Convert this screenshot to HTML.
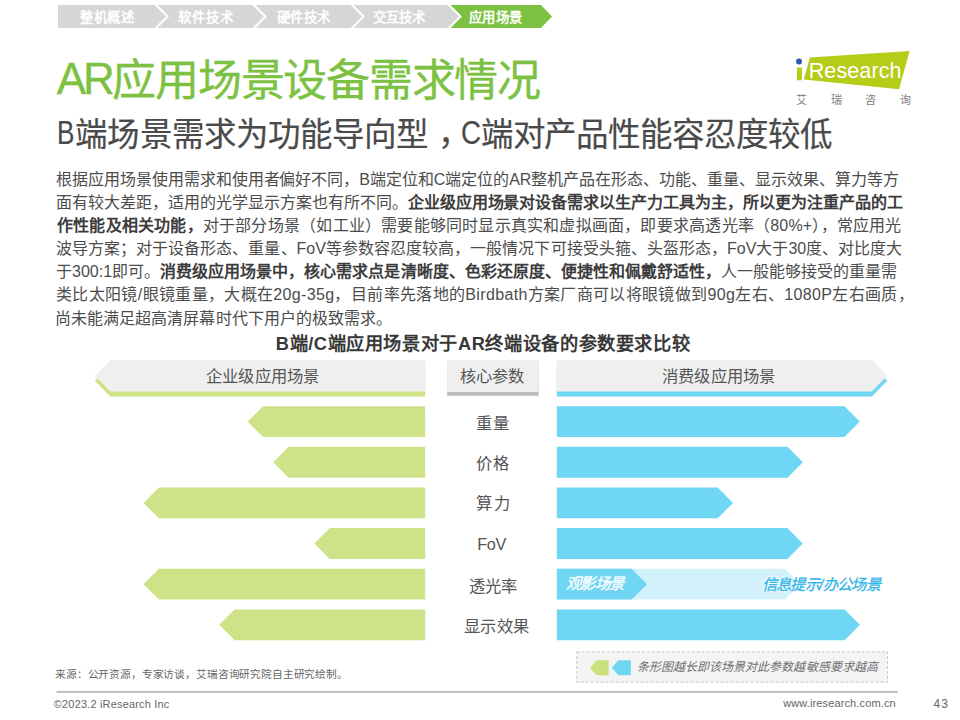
<!DOCTYPE html><html lang="zh-CN"><head>
<meta charset="utf-8">
<title>AR</title>
<style>
html,body{margin:0;padding:0;}
body{width:960px;height:720px;position:relative;overflow:hidden;background:#fff;font-family:"Liberation Sans",sans-serif;color:#444;}
.abs{position:absolute;white-space:nowrap;}
svg{position:absolute;left:0;top:0;}
.bc{top:5px;line-height:23px;font-size:13.33px;font-weight:bold;color:#fff;}
#bc1{left:80px}#bc2{left:178px}#bc3{left:277px}#bc4{left:373px}#bc5{left:468px}
.tt{top:54.5px;font-size:44px;line-height:50px;color:#7dc142;-webkit-text-stroke:0.35px #7dc142;}
.st{top:113.5px;font-size:32.5px;line-height:40px;color:#4a4a4a;-webkit-text-stroke:0.2px #4a4a4a;}
.p{left:57px;font-size:16px;line-height:23px;color:#4c4c4c;}
.p b{color:#3c3c3c;}
#ct{font-size:18.2px;line-height:24px;font-weight:bold;color:#383838;}
.hd{top:364px;line-height:24px;font-size:16.3px;color:#555;}
.it{font-style:italic;}
.ft{font-size:11px;line-height:14px;color:#666;}
</style>
</head>
<body>
<svg width="960" height="720" viewBox="0 0 960 720">
  <!-- breadcrumb -->
  <g id="crumb">
    <polygon points="58,5 154.5,5 166,16.5 154.5,28 58,28" fill="#d6d6d6"></polygon>
    <polygon points="157.5,5 252.5,5 264,16.5 252.5,28 157.5,28 169,16.5" fill="#d6d6d6"></polygon>
    <polygon points="255.5,5 350.5,5 362,16.5 350.5,28 255.5,28 267,16.5" fill="#d6d6d6"></polygon>
    <polygon points="353.5,5 447.5,5 459,16.5 447.5,28 353.5,28 365,16.5" fill="#d6d6d6"></polygon>
    <polygon points="450.5,5 541,5 552,16.5 541,28 450.5,28 462,16.5" fill="#7dc142"></polygon>
  </g>
  <!-- logo -->
  <g id="logo">
    <polygon points="809.8,57.6 909.6,51 899,89.3 803.8,79.6" fill="#b5cc18"></polygon>
    <rect x="797" y="67.5" width="4.9" height="12.8" fill="#b5cc18"></rect>
    <circle cx="799" cy="61.6" r="3" fill="#2e5aa8"></circle>
  </g>
  <!-- header shapes -->
  <polygon points="94.8,380.85 110.3,365.10 425.2,365.10 425.2,396.60 110.3,396.60" fill="#cee288"></polygon>
  <polygon points="94.8,375.65 110.3,359.90 425.2,359.90 425.2,391.40 110.3,391.40" fill="#efefef"></polygon>
  <rect x="447.1" y="364" width="91.6" height="31.8" fill="#bdbdbd"></rect>
  <rect x="447.1" y="359.9" width="91.6" height="32" fill="#efefef"></rect>
  <polygon points="556.8,365.10 871.8,365.10 887.3,380.85 871.8,396.60 556.8,396.60" fill="#6fd6f3"></polygon>
  <polygon points="556.8,359.90 871.8,359.90 887.3,375.65 871.8,391.40 556.8,391.40" fill="#efefef"></polygon>
  <!-- green bars -->
  <g fill="#cee288">
    <polygon points="247.7,421.60 263.1,406.20 425.2,406.20 425.2,437.00 263.1,437.00"></polygon>
    <polygon points="273.3,462.24 288.7,446.84 425.2,446.84 425.2,477.64 288.7,477.64"></polygon>
    <polygon points="143.5,502.88 158.9,487.48 425.2,487.48 425.2,518.28 158.9,518.28"></polygon>
    <polygon points="314.4,543.52 329.8,528.12 425.2,528.12 425.2,558.92 329.8,558.92"></polygon>
    <polygon points="143.5,584.16 158.9,568.76 425.2,568.76 425.2,599.56 158.9,599.56"></polygon>
    <polygon points="219.2,624.80 234.6,609.40 425.2,609.40 425.2,640.20 234.6,640.20"></polygon>
  </g>
  <!-- blue bars -->
  <g fill="#6fd6f3">
    <polygon points="556.8,406.20 844.4,406.20 859.8,421.60 844.4,437.00 556.8,437.00"></polygon>
    <polygon points="556.8,446.84 787.5,446.84 802.9,462.24 787.5,477.64 556.8,477.64"></polygon>
    <polygon points="556.8,487.48 717.6,487.48 733.0,502.88 717.6,518.28 556.8,518.28"></polygon>
    <polygon points="556.8,528.12 787.4,528.12 802.8,543.52 787.4,558.92 556.8,558.92"></polygon>
    <polygon points="556.8,568.76 785.0,568.76 800.4,584.16 785.0,599.56 556.8,599.56" fill="#d3f1fb"></polygon>
    <polygon points="556.8,568.76 631.6,568.76 647.0,584.16 631.6,599.56 556.8,599.56"></polygon>
    <polygon points="556.8,609.40 844.6,609.40 860.0,624.80 844.6,640.20 556.8,640.20"></polygon>
  </g>
  <!-- legend -->
  <rect x="576.8" y="651.8" width="310.7" height="30.4" fill="#f4f4f4" stroke="#c2c2c2" stroke-width="0.9" stroke-dasharray="3,2"></rect>
  <polygon points="590,667.8 596.7,660.3 608.7,660.3 608.7,675.3 596.7,675.3" fill="#c9e07e"></polygon>
  <polygon points="611.7,667.8 618.3,660.3 630.8,660.3 630.8,675.3 618.3,675.3" fill="#6fd6f3"></polygon>
  <!-- footer line -->
  <rect x="56.5" y="690.9" width="841" height="2" fill="#bdbdbd"></rect>
</svg>

<div id="bc1" class="abs bc" style="letter-spacing: 0.6px; left: 80px; top: 6.2px; width: 54.43px; text-align: justify; text-align-last: justify;">整机概述</div>
<div id="bc2" class="abs bc" style="letter-spacing: 0.866px; left: 178px; top: 6.2px; width: 55.49px; text-align: justify; text-align-last: justify;">软件技术</div>
<div id="bc3" class="abs bc" style="letter-spacing: 0.334px; left: 277px; top: 6.2px; width: 53.36px; text-align: justify; text-align-last: justify;">硬件技术</div>
<div id="bc4" class="abs bc" style="letter-spacing: 0.067px; left: 372.8px; top: 6.2px; width: 52.3px; text-align: justify; text-align-last: justify;">交互技术</div>
<div id="bc5" class="abs bc" style="letter-spacing: 0.4px; left: 468.8px; top: 6.2px; width: 53.63px; text-align: justify; text-align-last: justify;">应用场景</div>

<div id="lg1" class="abs" style="left: 808.7px; top: 58.1px; font-size: 21.5px; line-height: 26px; color: rgb(255, 255, 255); letter-spacing: 0.116px; width: 92.97px; text-align: justify; text-align-last: justify;">Research</div>
<div id="lg2" class="abs" style="left: 796px; top: 93px; font-size: 11px; line-height: 14px; color: rgb(124, 124, 124); letter-spacing: 23.667px; width: 138.69px; text-align: justify; text-align-last: justify;">艾瑞咨询</div>

<div id="t1" class="abs tt" style="left: 56.8px; letter-spacing: -3.2px; top: 54.3px; width: 54.75px; text-align: justify; text-align-last: justify;">AR</div>
<div id="t2" class="abs tt" style="left: 112.4px; letter-spacing: -1.268px; top: 55.9px; width: 427.35px; text-align: justify; text-align-last: justify;">应用场景设备需求情况</div>

<div id="s1" class="abs st" style="left: 57.4px; transform: scaleX(0.8029); transform-origin: 0px 50%; top: 113.3px;">B</div>
<div id="s2" class="abs st" style="left: 75.4px; letter-spacing: -0.94px; top: 115.3px; width: 352.69px; text-align: justify; text-align-last: justify;">端场景需求为功能导向型</div>
<div id="s3" class="abs st" style="left: 438.2px;">，</div>
<div id="s4" class="abs st" style="left: 460.8px; transform: scaleX(0.8526); transform-origin: 0px 50%; top: 113.3px;">C</div>
<div id="s5" class="abs st" style="left: 480.6px; letter-spacing: -1.06px; top: 115.3px; width: 351.36px; text-align: justify; text-align-last: justify;">端对产品性能容忍度较低</div>

<div id="p1" class="abs p" style="top: 167.9px; letter-spacing: -0.037px; left: 56px; width: 842.49px; text-align: justify; text-align-last: justify;">根据应用场景使用需求和使用者偏好不同，B端定位和C端定位的AR整机产品在形态、功能、重量、显示效果、算力等方</div>
<div id="p2" class="abs p" style="top: 191px; letter-spacing: -0.019px; left: 56px; width: 847.04px; text-align: justify; text-align-last: justify;">面有较大差距，适用的光学显示方案也有所不同。<b>企业级应用场景对设备需求以生产力工具为主，所以更为注重产品的工</b></div>
<div id="p3" class="abs p" style="top: 214.1px; letter-spacing: 0.208px; left: 57px; width: 844.63px; text-align: justify; text-align-last: justify;"><b>作性能及相关功能，</b>对于部分场景（如工业）需要能够同时显示真实和虚拟画面，即要求高透光率（80%+），常应用光</div>
<div id="p4" class="abs p" style="top: 237.2px; letter-spacing: 0.036px; left: 56px; width: 846.54px; text-align: justify; text-align-last: justify;">波导方案；对于设备形态、重量、FoV等参数容忍度较高，一般情况下可接受头箍、头盔形态，FoV大于30度、对比度大</div>
<div id="p5" class="abs p" style="top: 260.3px; letter-spacing: 0.019px; left: 56px; width: 841.13px; text-align: justify; text-align-last: justify;">于300:1即可。<b>消费级应用场景中，核心需求点是清晰度、色彩还原度、便捷性和佩戴舒适性，</b>人一般能够接受的重量需</div>
<div id="p6" class="abs p" style="top: 283.4px; letter-spacing: 0.349px; left: 56px; width: 858.08px; text-align: justify; text-align-last: justify;">类比太阳镜/眼镜重量，大概在20g-35g，目前率先落地的Birdbath方案厂商可以将眼镜做到90g左右、1080P左右画质，</div>
<div id="p7" class="abs p" style="top: 306.5px; letter-spacing: 0.05px; left: 55px; width: 337.08px; text-align: justify; text-align-last: justify;">尚未能满足超高清屏幕时代下用户的极致需求。</div>

<div id="ct" class="abs" style="left: 275.8px; top: 332px; letter-spacing: 0.618px; width: 414.46px; text-align: justify; text-align-last: justify;">B端/C端应用场景对于AR终端设备的参数要求比较</div>

<div id="h1" class="abs hd" style="left: 206px; letter-spacing: 0.167px; top: 364.4px; width: 113.19px; text-align: justify; text-align-last: justify;">企业级应用场景</div>
<div id="h2" class="abs hd" style="left: 460.2px; letter-spacing: 0.067px; top: 364px; width: 64.3px; text-align: justify; text-align-last: justify;">核心参数</div>
<div id="h3" class="abs hd" style="left: 662px; letter-spacing: 0.167px; top: 364.4px; width: 113.19px; text-align: justify; text-align-last: justify;">消费级应用场景</div>

<div id="l1" class="abs hd" style="left: 476.2px; top: 411.2px; letter-spacing: 0.8px; width: 33.63px; text-align: justify; text-align-last: justify;">重量</div>
<div id="l2" class="abs hd" style="left: 476.2px; top: 451.2px; letter-spacing: 0.8px; width: 33.63px; text-align: justify; text-align-last: justify;">价格</div>
<div id="l3" class="abs hd" style="left: 476.2px; top: 491px; letter-spacing: 1.8px; width: 35.63px; text-align: justify; text-align-last: justify;">算力</div>
<div id="l4" class="abs hd" style="left: 477.2px; top: 531.6px; letter-spacing: -0.3px; width: 28.99px; text-align: justify; text-align-last: justify;">FoV</div>
<div id="l5" class="abs hd" style="left: 469.2px; top: 573.6px; letter-spacing: -0.2px; width: 47.43px; text-align: justify; text-align-last: justify;">透光率</div>
<div id="l6" class="abs hd" style="left: 463.6px; top: 613.8px; letter-spacing: 0.466px; width: 65.89px; text-align: justify; text-align-last: justify;">显示效果</div>

<div id="i1" class="abs it" style="left: 565.6px; top: 574px; font-size: 15.5px; line-height: 20px; color: rgb(255, 255, 255); -webkit-text-stroke: 0.3px rgb(255, 255, 255); letter-spacing: -1.534px; width: 57.9px; text-align: justify; text-align-last: justify;">观影场景</div>
<div id="i2" class="abs it" style="left: 761.6px; top: 575.32px; font-size: 15.2px; line-height: 20px; color: rgb(47, 182, 232); -webkit-text-stroke: 0.3px rgb(47, 182, 232); text-shadow: rgb(255, 255, 255) 0px 0px 2px, rgb(255, 255, 255) 0px 0px 3px, rgb(255, 255, 255) 0px 0px 4px; letter-spacing: -0.625px; width: 118.63px; text-align: justify; text-align-last: justify;">信息提示/办公场景</div>
<div id="i3" class="abs it" style="left: 636.8px; top: 659.4px; font-size: 12px; line-height: 16px; color: rgb(110, 110, 110); letter-spacing: 0.053px; width: 241.08px; text-align: justify; text-align-last: justify;">条形图越长即该场景对此参数越敏感要求越高</div>

<div id="f1" class="abs ft" style="left: 55px; top: 666.6px; font-size: 10.67px; letter-spacing: -0.154px; width: 292.86px; text-align: justify; text-align-last: justify;">来源：公开资源，专家访谈，艾瑞咨询研究院自主研究绘制。</div>
<div id="f2" class="abs ft" style="left: 53.8px; top: 696.8px; letter-spacing: 0.17px; width: 115.66px; text-align: justify; text-align-last: justify;">©2023.2 iResearch Inc</div>
<div id="f3" class="abs ft" style="left: 783.2px; top: 696.2px; letter-spacing: 0.127px; width: 112.6px; text-align: justify; text-align-last: justify;">www.iresearch.com.cn</div>
<div id="f4" class="abs ft" style="left: 933.5px; top: 696.7px; font-size: 12px; letter-spacing: 1px; width: 15.38px; text-align: justify; text-align-last: justify;">43</div>


</body></html>
